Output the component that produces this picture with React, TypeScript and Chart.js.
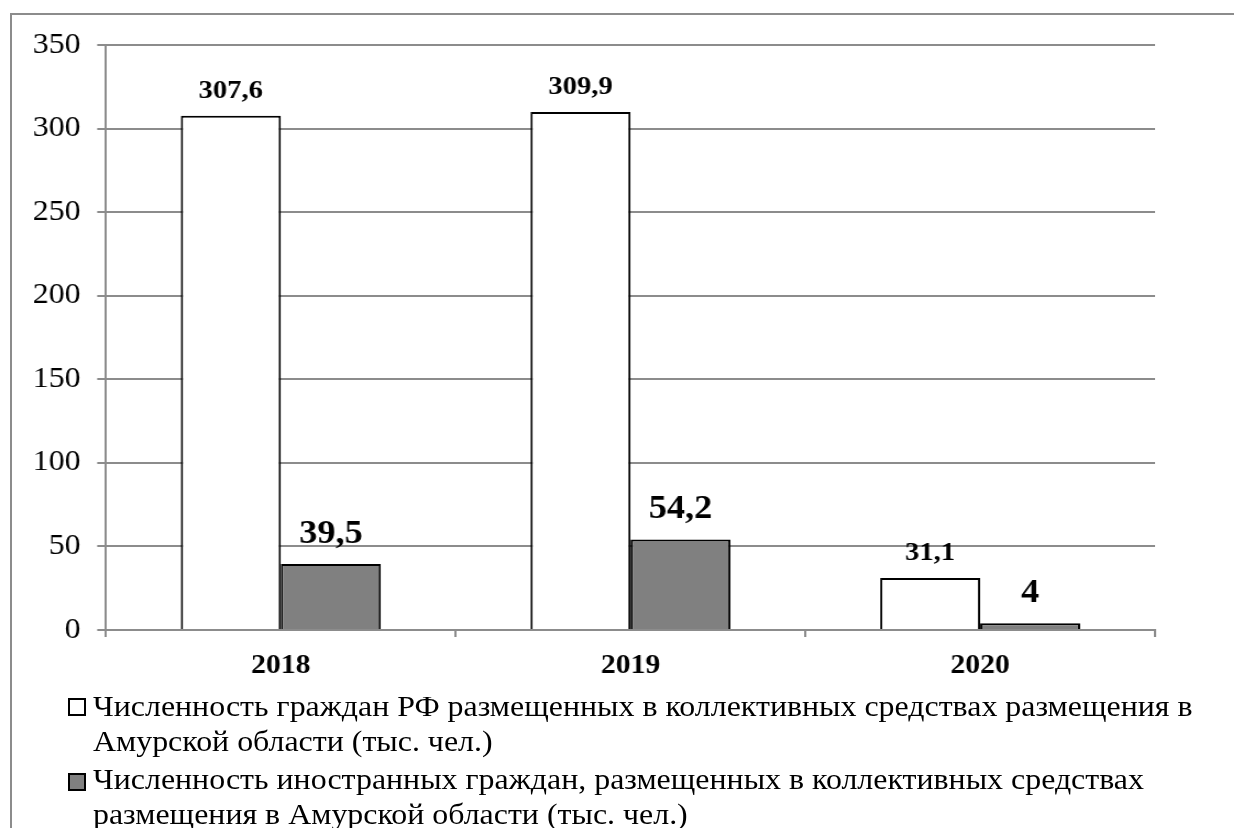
import React, { useEffect, useRef } from "react";
import { Chart, registerables } from "chart.js";

Chart.register(...registerables);

const categories: string[] = ["2018", "2019", "2020"];
const seriesRF: number[] = [307.6, 309.9, 31.1];
const seriesForeign: number[] = [39.5, 54.2, 4];
const seriesNames: string[] = [
  "Численность граждан РФ размещенных в коллективных средствах размещения в Амурской области (тыс. чел.)",
  "Численность иностранных граждан, размещенных в коллективных средствах размещения в Амурской области (тыс. чел.)",
];
const legendLines: string[][] = [
  ["Численность граждан РФ размещенных в коллективных средствах размещения в", "Амурской области (тыс. чел.)"],
  ["Численность иностранных граждан, размещенных в коллективных средствах", "размещения в Амурской области (тыс. чел.)"],
];
const yMin = 0;
const yMax = 350;
const yStep = 50;

const SERIF = '"Liberation Serif", "Times New Roman", serif';
const GRID = "#8c8c8c";
const fills = ["#ffffff", "#808080"];

// the reference is slightly wider than tall in its text; reproduce via a horizontal stretch
const SX = 1.1;
const CW = Math.round(1234 / SX);
const CH = 828;

const fmt = (v: number) => String(v).replace(".", ",");

const labelPlugin = {
  id: "valueLabels",
  afterDatasetsDraw(chart: any) {
    const ctx = chart.ctx;
    ctx.save();
    ctx.fillStyle = "#000";
    ctx.textAlign = "center";
    ctx.textBaseline = "alphabetic";
    chart.data.datasets.forEach((ds: any, di: number) => {
      const meta = chart.getDatasetMeta(di);
      ctx.font = di === 0 ? `bold 26px ${SERIF}` : `bold 33px ${SERIF}`;
      const off = di === 0 ? 18 : 21;
      meta.data.forEach((el: any, i: number) => {
        ctx.fillText(fmt(ds.data[i]), el.x, el.y - off);
      });
    });
    ctx.restore();
  },
};

export default function App() {
  const ref = useRef<HTMLCanvasElement | null>(null);
  useEffect(() => {
    if (!ref.current) return;
    const chart = new Chart(ref.current, {
      type: "bar",
      data: {
        labels: categories,
        datasets: [
          {
            label: seriesNames[0],
            data: seriesRF,
            backgroundColor: fills[0],
            borderColor: "#000",
            borderWidth: 2,
          },
          {
            label: seriesNames[1],
            data: seriesForeign,
            backgroundColor: fills[1],
            borderColor: "#000",
            borderWidth: 2,
          },
        ],
      },
      options: {
        animation: false,
        responsive: false,
        maintainAspectRatio: false,
        layout: { padding: { left: 0, top: 45, right: CW - 1155 / SX, bottom: 0 } },
        datasets: { bar: { categoryPercentage: 0.572, barPercentage: 1.0 } },
        plugins: { legend: { display: false }, tooltip: { enabled: false } },
        scales: {
          x: {
            grid: { drawOnChartArea: false, color: GRID, lineWidth: 2, tickLength: 7, offset: true },
            border: { color: GRID, width: 2 },
            ticks: { color: "#000", font: { family: SERIF, size: 27, weight: "bold" }, padding: 13 },
            afterFit: (s: any) => {
              s.height = 198;
            },
          },
          y: {
            min: yMin,
            max: yMax,
            ticks: { stepSize: yStep, color: "#000", font: { family: SERIF, size: 29 }, padding: 15 },
            grid: { color: GRID, lineWidth: 2, tickLength: 8 },
            border: { color: GRID, width: 2 },
            afterFit: (s: any) => {
              s.width = 106 / SX;
            },
          },
        },
      },
      plugins: [labelPlugin],
    });
    return () => chart.destroy();
  }, []);

  return (
    <div style={{ position: "fixed", left: 0, top: 0, width: 1234, height: 828, overflow: "hidden", background: "#fff" }}>
      <div
        style={{
          position: "absolute",
          left: 10,
          top: 13,
          width: 1400,
          height: 1000,
          border: "2px solid #8c8c8c",
          boxSizing: "border-box",
        }}
      />
      <canvas
        ref={ref}
        width={CW}
        height={CH}
        style={{
          position: "absolute",
          left: 0,
          top: 0,
          width: CW,
          height: CH,
          transform: `scaleX(${SX})`,
          transformOrigin: "left top",
        }}
      />
      {legendLines.map((lines, i) => (
        <div key={i}>
          <div
            style={{
              position: "absolute",
              left: 68,
              top: i === 0 ? 698 : 773,
              width: 14,
              height: 14,
              border: "2px solid #000",
              background: fills[i],
            }}
          />
          <div
            style={{
              position: "absolute",
              left: 93,
              top: i === 0 ? 689 : 762,
              fontFamily: SERIF,
              fontSize: 29,
              lineHeight: "35.3px",
              whiteSpace: "nowrap",
              color: "#000",
              transform: `scaleX(${SX})`,
              transformOrigin: "left top",
            }}
          >
            {lines.map((l, j) => (
              <div key={j}>{l}</div>
            ))}
          </div>
        </div>
      ))}
    </div>
  );
}
